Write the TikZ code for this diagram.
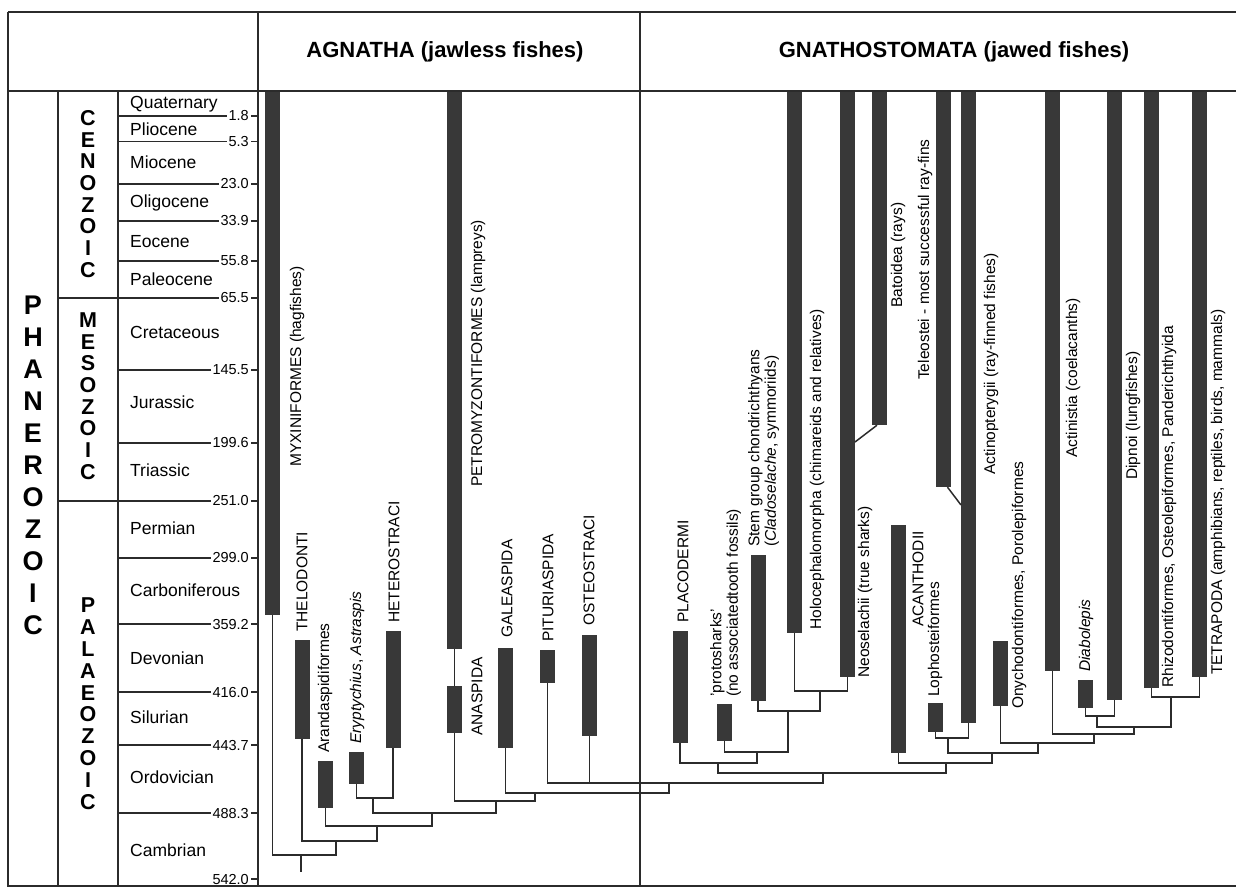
\documentclass[tikz,border=0pt]{standalone}
\usepackage{fontspec}
\setmainfont{Liberation Sans}
\definecolor{ink}{HTML}{2B2B2B}
\definecolor{barfill}{HTML}{383838}
\newcommand{\fishbar}[4]{%
  \node[bar, minimum height={(#4-#3)*1pt}] (#1) at (#2,{(#3+#4)/2}) {};}
\begin{document}
\begin{tikzpicture}[x=1pt, y=-1pt,
  frame/.style={line width=1.8pt, draw=ink},
  rule/.style={line width=1.2pt, draw=ink},
  branch/.style={line width=1.5pt, draw=ink},
  bar/.style={fill=barfill, draw=none, minimum width=15pt, inner sep=0pt},
  lab/.style={rotate=90, anchor=west, inner sep=0pt, align=left,
    font=\fontsize{15.5}{16.5}\selectfont},
  period/.style={anchor=west, inner sep=0pt, font=\fontsize{17.5}{20}\selectfont},
  age/.style={anchor=east, inner sep=0pt, font=\fontsize{14.5}{16}\selectfont},
  eraletter/.style={inner sep=0pt, font=\fontsize{21.5}{21.5}\selectfont\bfseries},
  eonletter/.style={inner sep=0pt, font=\fontsize{27}{27}\selectfont\bfseries},
  head/.style={inner sep=0pt, font=\fontsize{22}{24}\selectfont\bfseries}]
  \useasboundingbox (0,0) rectangle (1236,891);

  % table
  \draw[frame] (8,12) -- (1236,12);
  \draw[frame] (8,12) -- (8,886) -- (1236,886);
  \draw[frame] (8,91) -- (1236,91);
  \draw[frame] (258,12) -- (258,886);
  \draw[frame] (640,12) -- (640,886);
  \draw[rule] (58,91) -- (58,886);
  \draw[rule] (118,91) -- (118,886);
  \node[head] (agnatha) at (445,52) {AGNATHA (jawless fishes)};
  \node[head] (gnatho) at (954,52) {GNATHOSTOMATA (jawed fishes)};

  % time scale
  \foreach \y/\age/\from [count=\i] in {116/1.8/118, 141.7/5.3/118, 184/23.0/118,
      221/33.9/118, 261/55.8/118, 298/65.5/58, 370/145.5/118, 443/199.6/118,
      501/251.0/58, 558/299.0/118, 624/359.2/118, 692/416.0/118, 745/443.7/118,
      813/488.3/118} {
    \node[age] (age\i) at (249,\y) {\age};
    \draw[rule] (\from,\y) -- ([xshift=-1pt]age\i.west);
    \draw[rule] ([xshift=2pt]age\i.east) -- (258,\y);
  }
  \node[age] (age15) at (249,879) {542.0};
  \draw[rule] ([xshift=2pt]age15.east) -- (258,879);
  \foreach \y/\name [count=\i] in {104/Quaternary, 129/Pliocene, 162/Miocene,
      203/Oligocene, 242/Eocene, 279/Paleocene, 332/Cretaceous, 402/Jurassic,
      470/Triassic, 528/Permian, 590/Carboniferous, 658/Devonian, 717/Silurian,
      777/Ordovician, 850/Cambrian}
    \node[period] (per\i) at (130,\y) {\name};
  \foreach \l [count=\i] in {C,E,N,O,Z,O,I,C}
    \node[eraletter] (cen\i) at (88,{118+21.7*(\i-1)}) {\l};
  \foreach \l [count=\i] in {M,E,S,O,Z,O,I,C}
    \node[eraletter] (mes\i) at (88,{320+21.7*(\i-1)}) {\l};
  \foreach \l [count=\i] in {P,A,L,A,E,O,Z,O,I,C}
    \node[eraletter] (pal\i) at (88,{605+21.9*(\i-1)}) {\l};
  \foreach \l [count=\i] in {P,H,A,N,E,R,O,Z,O,I,C}
    \node[eonletter] (pha\i) at (33,{305+32*(\i-1)}) {\l};

  % ranges
  \fishbar{myx}{272.5}{92}{615}
  \fishbar{thel}{302}{640}{739}
  \fishbar{arand}{325.5}{761}{808}
  \fishbar{eryp}{356.5}{752}{784}
  \fishbar{heter}{393}{631}{748}
  \fishbar{petro}{454.5}{92}{649}
  \fishbar{anasp}{454.5}{686}{733}
  \fishbar{galea}{505.5}{648}{748}
  \fishbar{pitur}{547.5}{650}{683}
  \fishbar{osteo}{589.5}{635}{736}
  \fishbar{placo}{680}{631}{743}
  \fishbar{proto}{724.5}{704}{741}
  \fishbar{stemg}{758}{555}{701}
  \fishbar{holo}{794.5}{92}{633}
  \fishbar{neosel}{847.5}{92}{677}
  \fishbar{batoid}{879.5}{92}{425}
  \fishbar{acanth}{898.5}{525}{753}
  \fishbar{teleo}{943.5}{92}{487}
  \fishbar{lopho}{935.5}{703}{732}
  \fishbar{actino}{968.5}{92}{723}
  \fishbar{onycho}{1000.5}{641}{706}
  \fishbar{actinis}{1052.5}{92}{671}
  \fishbar{diabo}{1085.5}{680}{708}
  \fishbar{dipnoi}{1114.5}{92}{700}
  \fishbar{rhizo}{1151.5}{92}{688}
  \fishbar{tetra}{1199.5}{92}{677}

  % branching points
  \coordinate (base) at (301,872);
  \coordinate (nroot) at (301,855);
  \coordinate (n2) at (336,841);
  \coordinate (n3) at (377,826);
  \coordinate (n4) at (432,813);
  \coordinate (nhet) at (373,798);
  \coordinate (nana) at (496,801);
  \coordinate (ngal) at (535,793);
  \coordinate (npit) at (669,783);
  \coordinate (ngna) at (823,773);
  \coordinate (nplac) at (718,763);
  \coordinate (nchon) at (757,752);
  \coordinate (ncrown) at (788,711);
  \coordinate (nhn) at (820,691);
  \coordinate (ntel) at (946,763);
  \coordinate (nost) at (992,753);
  \coordinate (nact) at (948,738);
  \coordinate (nsarc) at (1038,743);
  \coordinate (nrip) at (1094,734);
  \coordinate (nchoa) at (1134,727);
  \coordinate (ndip) at (1097,716);
  \coordinate (ntet) at (1171,697);
  \coordinate (bjoin) at (855,442);
  \coordinate (tjoin) at (961,505);

  \draw[branch] (nroot) -- (base);
  \draw[branch] (myx.south) |- (nroot) -| (n2);
  \draw[branch] (thel.south) |- (n2) -| (n3);
  \draw[branch] (arand.south) |- (n3) -| (n4);
  \draw[branch] (nhet) |- (n4) -| (nana);
  \draw[branch] (eryp.south) |- (nhet) -| (heter.south);
  \draw[branch] (anasp.south) |- (nana) -| (ngal);
  \draw[branch] (petro.south) -- (anasp.north);
  \draw[branch] (galea.south) |- (ngal) -| (npit);
  \draw[branch] (pitur.south) |- (npit) -| (ngna);
  \draw[branch] (osteo.south) -- (osteo.south |- npit);
  \draw[branch] (nplac) |- (ngna) -| (ntel);
  \draw[branch] (placo.south) |- (nplac) -| (nchon);
  \draw[branch] (proto.south) |- (nchon) -| (ncrown);
  \draw[branch] (stemg.south) |- (ncrown) -| (nhn);
  \draw[branch] (holo.south) |- (nhn) -| (neosel.south);
  \draw[branch] ([xshift=-2.5pt]batoid.south) -- (bjoin);
  \draw[branch] (acanth.south) |- (ntel) -| (nost);
  \draw[branch] (nact) |- (nost) -| (nsarc);
  \draw[branch] (lopho.south) |- (nact) -| (actino.south);
  \draw[branch] ([xshift=4pt]teleo.south) -- (tjoin);
  \draw[branch] (onycho.south) |- (nsarc) -| (nrip);
  \draw[branch] (actinis.south) |- (nrip) -| (nchoa);
  \draw[branch] (ndip) |- (nchoa) -| (ntet);
  \draw[branch] (diabo.south) |- (ndip) -| (dipnoi.south);
  \draw[branch] (rhizo.south) |- (ntet) -| (tetra.south);

  % names
  \node[lab] (lmyx) at (297,467) {MYXINIFORMES (hagfishes)};
  \node[lab] (lthel) at (302,632) {THELODONTI};
  \node[lab] (larand) at (325,753) {Arandaspidiformes};
  \node[lab] (leryp) at (357,744) {\textit{Eryptychius}, \textit{Astraspis}};
  \node[lab] (lheter) at (394,623) {HETEROSTRACI};
  \node[lab] (lpetro) at (478,487) {PETROMYZONTIFORMES (lampreys)};
  \node[lab] (lanasp) at (477,736) {ANASPIDA};
  \node[lab] (lgalea) at (507,638) {GALEASPIDA};
  \node[lab] (lpitur) at (548,642) {PITURIASPIDA};
  \node[lab] (losteo) at (589,626) {OSTEOSTRACI};
  \node[lab] (lplaco) at (683,623) {PLACODERMI};
  \node[lab] (lproto) at (725.5,697) {'protosharks'\\(no associatedtooth fossils)};
  \node[lab] (lstemg) at (763.5,547) {Stem group chondrichthyans\\(\textit{Cladoselache}, symmoriids)};
  \node[lab] (lholo) at (817,630) {Holocephalomorpha (chimareids and relatives)};
  \node[lab] (lneosel) at (865,678) {Neoselachii (true sharks)};
  \node[lab] (lbatoid) at (898,308) {Batoidea (rays)};
  \node[lab] (lteleo) at (925,380) {Teleostei - most successful ray-fins};
  \node[lab] (lacanth) at (918,627) {ACANTHODII};
  \node[lab] (llopho) at (935,697) {Lophosteiformes};
  \node[lab] (lactino) at (991,475) {Actinopterygii (ray-finned fishes)};
  \node[lab] (lonycho) at (1019,709) {Onychodontiformes, Porolepiformes};
  \node[lab] (lactinis) at (1073,458) {Actinistia (coelacanths)};
  \node[lab] (ldiabo) at (1086,672) {\textit{Diabolepis}};
  \node[lab] (ldipnoi) at (1133,480) {Dipnoi (lungfishes)};
  \node[lab] (lrhizo) at (1169,688) {Rhizodontiformes, Osteolepiformes, Panderichthyida};
  \node[lab] (ltetra) at (1218,675) {TETRAPODA (amphibians, reptiles, birds, mammals)};
\end{tikzpicture}
\end{document}
